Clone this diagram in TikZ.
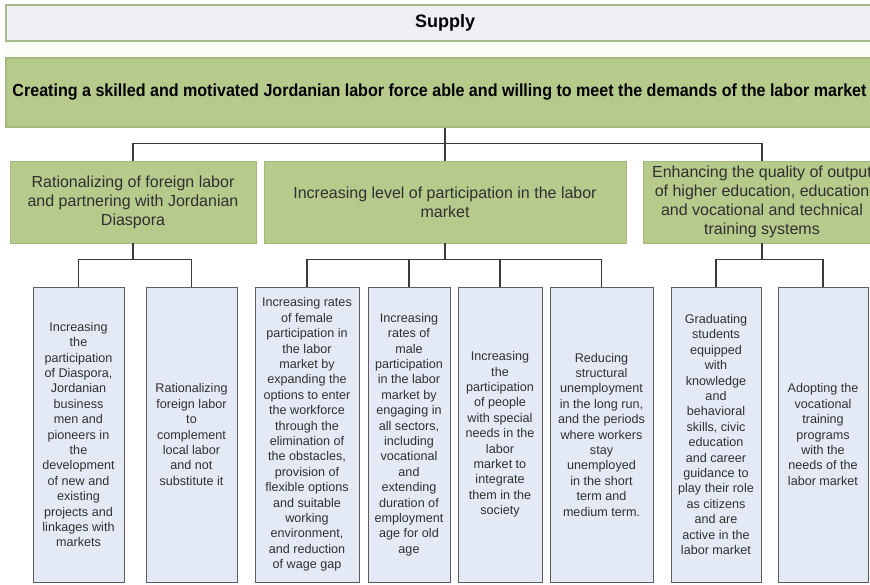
\documentclass[tikz,border=0pt]{standalone}
\usepackage{fontspec}
\setmainfont{Liberation Sans}
\usepackage{graphicx}
\usetikzlibrary{shadows}
\definecolor{supfill}{HTML}{EFEEF5}
\definecolor{supborder}{HTML}{A6B98A}
\definecolor{grnfill}{HTML}{B6CA8C}
\definecolor{grnborder}{HTML}{A3B87C}
\definecolor{bluefill}{HTML}{E4EAF5}
\definecolor{blueborder}{HTML}{5C5C5C}
\definecolor{linecol}{HTML}{3A3A3A}
\definecolor{txtcol}{HTML}{303030}
\definecolor{bandcol}{HTML}{FCFDF6}
\begin{document}
\begin{tikzpicture}[x=1pt,y=-1pt,
  supbox/.style={draw=supborder, fill=supfill, line width=1.3pt, inner sep=0pt, text=black, font=\bfseries\fontsize{18}{22}\selectfont},
  mainbox/.style={draw=grnborder, fill=grnfill, line width=1.3pt, inner sep=0pt, text=black},
  lvltwo/.style={draw=grnborder, fill=grnfill, line width=0.8pt, inner sep=0pt, minimum height=82pt, align=center, text=txtcol, font=\fontsize{16}{19}\selectfont},
  lvlthree/.style={draw=blueborder, fill=bluefill, line width=1pt, inner sep=0pt, minimum height=295pt, align=center, text=txtcol, font=\fontsize{12.6}{15.4}\selectfont, drop shadow={shadow xshift=1.2pt, shadow yshift=-1.2pt, fill=black!55, opacity=1}},
  conn/.style={draw=linecol, line width=1.3pt}
]
\useasboundingbox (0,0) rectangle (870,584);
\clip (0,0) rectangle (870,584);
\fill[bandcol] (6,41) rectangle (870,58);

\node[supbox, minimum width=878pt, minimum height=36pt] (supply) at (445,23) {Supply};
\node[mainbox, minimum width=878pt, minimum height=69pt] (goal) at (445,92.5) {};
\node at (439.5,92.5) {\resizebox{854pt}{\height}{\bfseries\fontsize{17.5}{20}\selectfont Creating a skilled and motivated Jordanian labor force able and willing to meet the demands of the labor market}};

\node[lvltwo, minimum width=246pt] (ra) at (133,202) {Rationalizing of foreign labor\\and partnering with Jordanian\\Diaspora};
\node[lvltwo, minimum width=362pt] (rb) at (445,202) {Increasing level of participation in the labor\\market};
\node[lvltwo, minimum width=238pt] (rc) at (762,202) {Enhancing the quality of output\\of higher education, education\\and vocational and technical\\training systems};

\node[lvlthree, minimum width=91pt] (a) at (78.5,434.5) {Increasing\\the\\participation\\of Diaspora,\\Jordanian\\business\\men and\\pioneers in\\the\\development\\of new and\\existing\\projects and\\linkages with\\markets};
\node[lvlthree, minimum width=91pt] (b) at (191.5,434.5) {Rationalizing\\foreign labor\\to\\complement\\local labor\\and not\\substitute it};
\node[lvlthree, minimum width=104pt] (c) at (307,434.5) {Increasing rates\\of female\\participation in\\the labor\\market by\\expanding the\\options to enter\\the workforce\\through the\\elimination of\\the obstacles,\\provision of\\flexible options\\and suitable\\working\\environment,\\and reduction\\of wage gap};
\node[lvlthree, minimum width=82pt] (d) at (409,434.5) {Increasing\\rates of\\male\\participation\\in the labor\\market by\\engaging in\\all sectors,\\including\\vocational\\and\\extending\\duration of\\employment\\age for old\\age};
\node[lvlthree, minimum width=84pt] (e) at (500,434.5) {Increasing\\the\\participation\\of people\\with special\\needs in the\\labor\\market to\\integrate\\them in the\\society};
\node[lvlthree, minimum width=103pt] (f) at (601.5,434.5) {Reducing\\structural\\unemployment\\in the long run,\\and the periods\\where workers\\stay\\unemployed\\in the short\\term and\\medium term.};
\node[lvlthree, minimum width=90pt] (g) at (716,434.5) {Graduating\\students\\equipped\\with\\knowledge\\and\\behavioral\\skills, civic\\education\\and career\\guidance to\\play their role\\as citizens\\and are\\active in the\\labor market};
\node[lvlthree, minimum width=90pt] (h) at (823,434.5) {Adopting the\\vocational\\training\\programs\\with the\\needs of the\\labor market};

% connectors
\draw[conn] (goal.south) -- (rb.north);
\draw[conn] (ra.north) -- ++(0,-17) -| (rc.north);
\draw[conn] (ra.south) -- ++(0,17);
\draw[conn] (a.north) -- ++(0,-27) -| (b.north);
\draw[conn] (rb.south) -- ++(0,17);
\draw[conn] (c.north) -- ++(0,-27) -| (f.north);
\draw[conn] (d.north) -- ++(0,-27);
\draw[conn] (e.north) -- ++(0,-27);
\draw[conn] (rc.south) -- ++(0,17);
\draw[conn] (g.north) -- ++(0,-27) -| (h.north);
\end{tikzpicture}
\end{document}
